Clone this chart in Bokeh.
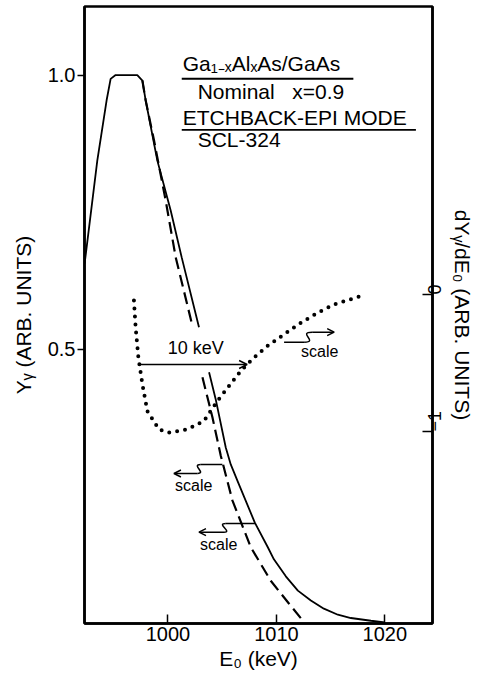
import math
from bokeh.plotting import figure
from bokeh.models import Range1d, LinearAxis, FixedTicker, Arrow, OpenHead, NumeralTickFormatter
from bokeh.core.properties import value
from bokeh.embed import file_html
from bokeh.resources import INLINE

nan = float("nan")

# ---- data ----
# Y_gamma (left axis), solid curve (gap where the "10 keV" marker crosses)
solid_E = [992.31, 993.48, 994.34, 994.71, 995.17, 997.17, 997.64, 997.94, 999.02, 1000.25,
           1001.26, 1002.86, nan,
           1003.79, 1004.40, 1005.33, 1005.79, 1006.43, 1008.01, 1009.21, 1009.77, 1010.87,
           1011.98, 1013.18, 1014.38, 1015.67, 1016.87, 1018.72, 1020.0]
solid_Y = [0.656, 0.844, 0.954, 0.993, 1.0, 1.0, 0.990, 0.954, 0.844, 0.753,
           0.668, 0.540, nan,
           0.458, 0.409, 0.321, 0.290, 0.259, 0.184, 0.139, 0.117, 0.086,
           0.060, 0.042, 0.027, 0.016, 0.010, 0.005, 0.002]
# Y_gamma (left axis), dashed curve
dash_E = [997.64, 997.94, 998.71, 999.79, 1000.71, 1002.25, nan,
          1003.18, 1004.10, 1004.87, 1005.95, 1007.64, 1009.48, 1011.17, 1012.41]
dash_Y = [0.990, 0.954, 0.881, 0.771, 0.668, 0.543, nan,
          0.449, 0.376, 0.306, 0.224, 0.139, 0.078, 0.036, 0.006]
# dY/dE0 (right axis), dotted curve
dot_E = [996.86, 997.02, 997.27, 997.64, 998.10, 999.17, 1000.09, 1001.79, 1003.32,
         1004.56, 1006.71, 1007.94, 1009.18, 1010.71, 1012.25, 1013.80, 1015.33, 1017.79]
dot_R = [-0.044, -0.243, -0.461, -0.655, -0.851, -0.984, -1.008, -0.984, -0.923,
         -0.777, -0.558, -0.461, -0.376, -0.291, -0.207, -0.134, -0.073, -0.012]

x_ticks = [1000, 1010, 1020]
y_ticks = [0.5, 1.0]
r_ticks = [0, -1]
title_lines = ["Ga\u2081\u208b\u2093Al\u2093As/GaAs", "Nominal\u00a0\u00a0\u00a0x=0.9",
               "ETCHBACK-EPI MODE", "SCL-324"]

FONT = "Liberation Sans"

p = figure(width=490, height=676, x_range=Range1d(992.3, 1024.4), y_range=Range1d(0, 1.125),
           output_backend="svg", toolbar_location=None,
           min_border_left=84, min_border_right=58, min_border_top=6, min_border_bottom=53,
           x_axis_label="E\u2080 (keV)", y_axis_label="Y\u1d67 (ARB. UNITS)")
p.extra_y_ranges = {"deriv": Range1d(-2.4, 2.1)}
p.grid.visible = False
p.outline_line_color = "black"
p.outline_line_width = 2.5
p.background_fill_color = "white"
p.border_fill_color = "white"

right = LinearAxis(y_range_name="deriv", axis_label="dY\u1d67/dE\u2080 (ARB. UNITS)")
p.add_layout(right, "right")

for ax in [p.xaxis[0], p.yaxis[0], right]:
    ax.axis_line_color = "black"
    ax.axis_line_width = 2.5
    ax.major_tick_line_color = "black"
    ax.major_tick_line_width = 1.5
    ax.minor_tick_line_color = None
    ax.major_label_text_font = FONT
    ax.major_label_text_font_size = "20px"
    ax.major_label_text_color = "black"
    ax.axis_label_text_font = FONT
    ax.axis_label_text_font_size = "21px"
    ax.axis_label_text_font_style = "normal"
    ax.axis_label_text_color = "black"

xa = p.xaxis[0]
xa.ticker = FixedTicker(ticks=x_ticks)
xa.major_tick_in = 9
xa.major_tick_out = 0
xa.major_label_standoff = 3
xa.axis_label_standoff = 3

ya = p.yaxis[0]
ya.ticker = FixedTicker(ticks=y_ticks)
ya.formatter = NumeralTickFormatter(format="0.0")
ya.major_tick_in = 0
ya.major_tick_out = 7
ya.major_label_standoff = 2
ya.axis_label_standoff = 10

right.ticker = FixedTicker(ticks=r_ticks)
right.major_tick_in = 10
right.major_tick_out = 0
right.major_label_standoff = 2
right.major_label_text_font_size = "18px"
right.major_label_orientation = math.pi / 2
right.axis_label_standoff = 0

# ---- curves ----
p.line(solid_E, solid_Y, line_color="black", line_width=1.8)
p.line(dash_E, dash_Y, line_color="black", line_width=2.2, line_dash="12 6")
p.line(dot_E, dot_R, y_range_name="deriv", line_color="black", line_width=4,
       line_dash="0 8", line_cap="round")

# ---- header text ----
tx = [1001.36, 1002.74, 1001.36, 1002.74]
ty = [1.0206, 0.9692, 0.9218, 0.8817]
p.text(x=tx, y=ty, text=title_lines, text_font=value(FONT), text_font_size="21px",
       text_baseline="middle", text_align="left", text_color="black")
p.segment(x0=[1001.27, 1001.27], y0=[0.9933, 0.8999], x1=[1017.1, 1022.87], y1=[0.9933, 0.8999],
          line_color="black", line_width=1.8)

# ---- 10 keV marker ----
k0 = 997.3
ky = 0.4723
p.add_layout(Arrow(end=OpenHead(size=8, line_width=1.5), x_start=k0, y_start=ky,
                   x_end=k0 + 10, y_end=ky, line_width=1.5))
p.text(x=[1002.56], y=[0.5015], text=["10 keV"], text_font=value(FONT),
       text_font_size="18px", text_align="center", text_baseline="middle")

# ---- "scale" pointers ----
def pointer(xa0, xa1, ylow, yhigh, xs_end, xarrow, c0, c1):
    p.segment(x0=[xa0], y0=[ylow], x1=[xa1], y1=[ylow], line_color="black", line_width=1.5)
    p.bezier(x0=[xa1], y0=[ylow], x1=[xs_end], y1=[yhigh], cx0=[c0], cy0=[ylow],
             cx1=[c1], cy1=[yhigh], line_color="black", line_width=1.5)
    p.add_layout(Arrow(end=OpenHead(size=7, line_width=1.5), x_start=xs_end, y_start=yhigh,
                       x_end=xarrow, y_end=yhigh, line_width=1.5))

# right-pointing (dotted curve uses right scale)
pointer(1010.71, 1012.56, 0.5129, 0.5312, 1013.3, 1015.33, 1013.95, 1011.9)
# left-pointing from dashed curve
pointer(1005.02, 1003.02, 0.2899, 0.2735, 1002.71, 1000.55, 1002.1, 1003.6)
# left-pointing from solid curve
pointer(1008.1, 1005.33, 0.1823, 0.1665, 1005.17, 1002.86, 1004.4, 1006.0)

p.text(x=[1014.0, 1002.37, 1004.68], y=[0.496, 0.2516, 0.144], text=["scale"] * 3,
       text_font=value(FONT), text_font_size="16px", text_align="center",
       text_baseline="middle")

open("out.html", "w").write(file_html(p, INLINE))
